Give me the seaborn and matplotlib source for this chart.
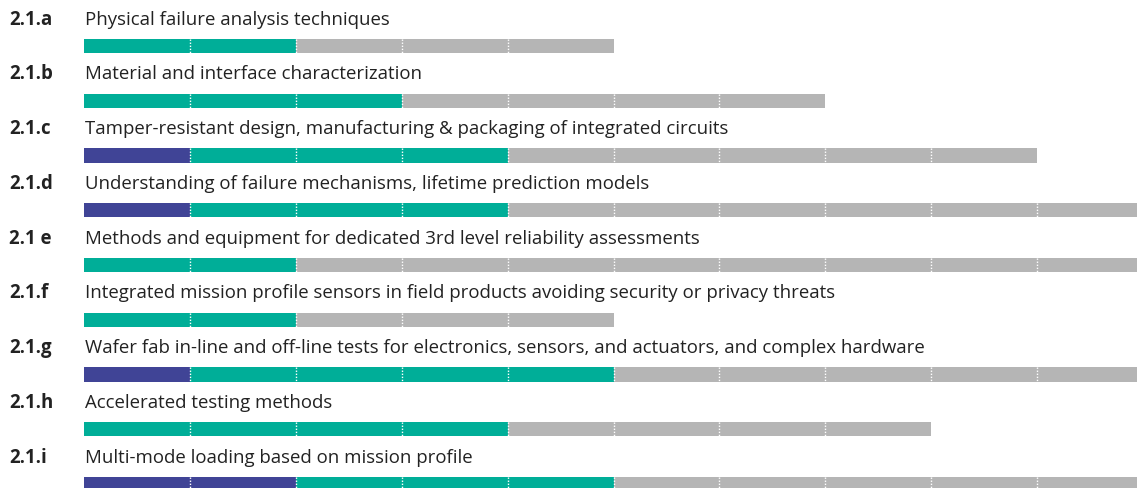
import matplotlib
matplotlib.use("Agg")
import matplotlib.pyplot as plt
import seaborn as sns
import pandas as pd

codes = ["2.1.a", "2.1.b", "2.1.c", "2.1.d", "2.1 e", "2.1.f", "2.1.g", "2.1.h", "2.1.i"]
labels = [
    "Physical failure analysis techniques",
    "Material and interface characterization",
    "Tamper-resistant design, manufacturing & packaging of integrated circuits",
    "Understanding of failure mechanisms, lifetime prediction models",
    "Methods and equipment for dedicated 3rd level reliability assessments",
    "Integrated mission profile sensors in field products avoiding security or privacy threats",
    "Wafer fab in-line and off-line tests for electronics, sensors, and actuators, and complex hardware",
    "Accelerated testing methods",
    "Multi-mode loading based on mission profile",
]
blue_segments = [0, 0, 1, 1, 0, 0, 1, 0, 2]
teal_segments = [2, 3, 3, 3, 2, 2, 4, 4, 3]
gray_segments = [3, 4, 5, 6, 8, 3, 5, 4, 5]

BLUE = "#404496"
TEAL = "#00AE98"
GRAY = "#B5B5B5"

df = pd.DataFrame({"code": codes, "label": labels,
                   "blue": blue_segments, "teal": teal_segments, "gray": gray_segments})
df["bt"] = df["blue"] + df["teal"]
df["total"] = df["bt"] + df["gray"]

sns.set_theme(style="white")
plt.rcParams["font.family"] = ["Open Sans", "DejaVu Sans"]

fig = plt.figure(figsize=(11.37, 4.89), dpi=100)
ax = fig.add_axes([0, 0, 1, 1])

bw = 0.26
kw = dict(y="code", orient="h", width=bw, saturation=1, linewidth=0, ax=ax)
sns.barplot(data=df, x="total", color=GRAY, **kw)
sns.barplot(data=df, x="bt", color=TEAL, **kw)
sns.barplot(data=df, x="blue", color=BLUE, **kw)

for i, row in df.iterrows():
    for k in range(1, int(row["total"])):
        ax.vlines(k, i - bw / 2, i + bw / 2, colors="white", linewidth=1.0,
                  linestyles=(0, (1, 1.2)), zorder=5)
    ax.text(-0.708, i - 0.50, row["code"], fontsize=13.4, fontweight="bold",
            color="#222222", va="center", ha="left")
    ax.text(0.01, i - 0.50, row["label"], fontsize=13.4, color="#222222",
            va="center", ha="left")

ax.set_xlim(-84 / 105.9, (1137 - 84) / 105.9)
ax.set_ylim(8.072, -0.858)
ax.set_axis_off()

fig.savefig("out.png", dpi=100)
